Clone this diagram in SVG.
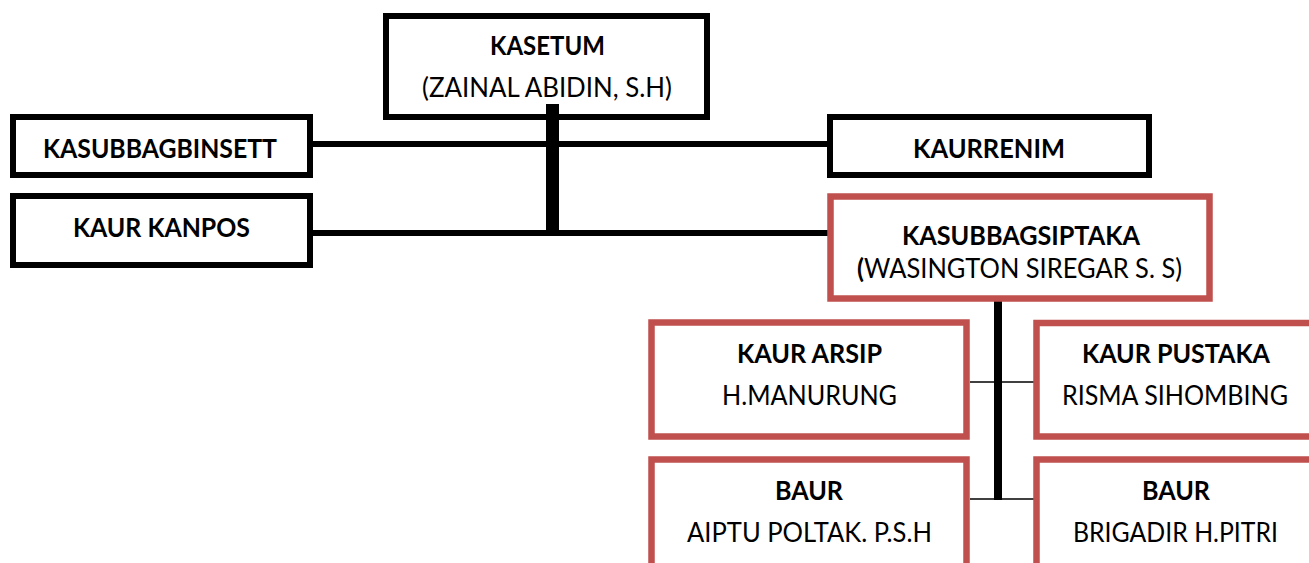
<svg xmlns="http://www.w3.org/2000/svg" width="1309" height="563" viewBox="0 0 1309 563">
<style>
.bk{fill:#fff;stroke:#000;stroke-width:6}
.rd{fill:#fff;stroke:#C0504D;stroke-width:6.5}
text{font-family:Lato,"Liberation Sans",sans-serif;font-size:26px;fill:#000;text-anchor:middle}
.b{font-weight:bold}
.ln{stroke:#000;fill:none}
</style>
<rect width="1309" height="563" fill="#fff"/>
<g id="connectors">
<line class="ln" x1="313" y1="144" x2="830" y2="144" stroke-width="6"/>
<line class="ln" x1="313" y1="233" x2="830" y2="233" stroke-width="6"/>
<line class="ln" x1="970" y1="382" x2="1035" y2="382" stroke-width="1.5"/>
<line class="ln" x1="970" y1="499" x2="1035" y2="499" stroke-width="1.5"/>
<line class="ln" x1="998" y1="300" x2="998" y2="500" stroke-width="8"/>
</g>
<g id="kasetum">
<rect class="bk" x="386" y="16" width="321" height="101"/>
<text class="b" x="547.5" y="55" textLength="115" lengthAdjust="spacingAndGlyphs">KASETUM</text>
<text x="547" y="97" textLength="250" lengthAdjust="spacingAndGlyphs">(ZAINAL ABIDIN, S.H)</text>
</g>
<rect x="546" y="104" width="13" height="131" fill="#000"/>
<g id="kasubbagbinsett">
<rect class="bk" x="13" y="117" width="297" height="58"/>
<text class="b" x="160" y="158" textLength="234" lengthAdjust="spacingAndGlyphs">KASUBBAGBINSETT</text>
</g>
<g id="kaurkanpos">
<rect class="bk" x="13" y="196" width="297" height="69"/>
<text class="b" x="161.5" y="237" textLength="177" lengthAdjust="spacingAndGlyphs">KAUR KANPOS</text>
</g>
<g id="kaurrenim">
<rect class="bk" x="830" y="117" width="319" height="58"/>
<text class="b" x="989" y="158" textLength="152" lengthAdjust="spacingAndGlyphs">KAURRENIM</text>
</g>
<g id="kasubbagsiptaka">
<rect class="rd" x="830.5" y="196.5" width="379" height="102"/>
<text class="b" x="1021" y="245" textLength="238" lengthAdjust="spacingAndGlyphs">KASUBBAGSIPTAKA</text>
<text x="1019.5" y="278" textLength="325" lengthAdjust="spacingAndGlyphs"><tspan class="b">(</tspan>WASINGTON SIREGAR S. S)</text>
</g>
<g id="kaurarsip">
<rect class="rd" x="651.5" y="322.5" width="315" height="114"/>
<text class="b" x="809.5" y="363" textLength="145" lengthAdjust="spacingAndGlyphs">KAUR ARSIP</text>
<text x="809.5" y="405" textLength="175" lengthAdjust="spacingAndGlyphs">H.MANURUNG</text>
</g>
<g id="kaurpustaka">
<rect class="rd" x="1036.5" y="323" width="300" height="113.5"/>
<text class="b" x="1176" y="363" textLength="188" lengthAdjust="spacingAndGlyphs">KAUR PUSTAKA</text>
<text x="1175" y="405" textLength="226" lengthAdjust="spacingAndGlyphs">RISMA SIHOMBING</text>
</g>
<g id="baur1">
<rect class="rd" x="651.5" y="459.5" width="315" height="150"/>
<text class="b" x="809" y="500" textLength="68" lengthAdjust="spacingAndGlyphs">BAUR</text>
<text x="809.5" y="542" textLength="245" lengthAdjust="spacingAndGlyphs">AIPTU POLTAK. P.S.H</text>
</g>
<g id="baur2">
<rect class="rd" x="1036.5" y="459.5" width="300" height="150"/>
<text class="b" x="1176" y="500" textLength="68" lengthAdjust="spacingAndGlyphs">BAUR</text>
<text x="1175.5" y="542" textLength="205" lengthAdjust="spacingAndGlyphs">BRIGADIR H.PITRI</text>
</g>
</svg>
